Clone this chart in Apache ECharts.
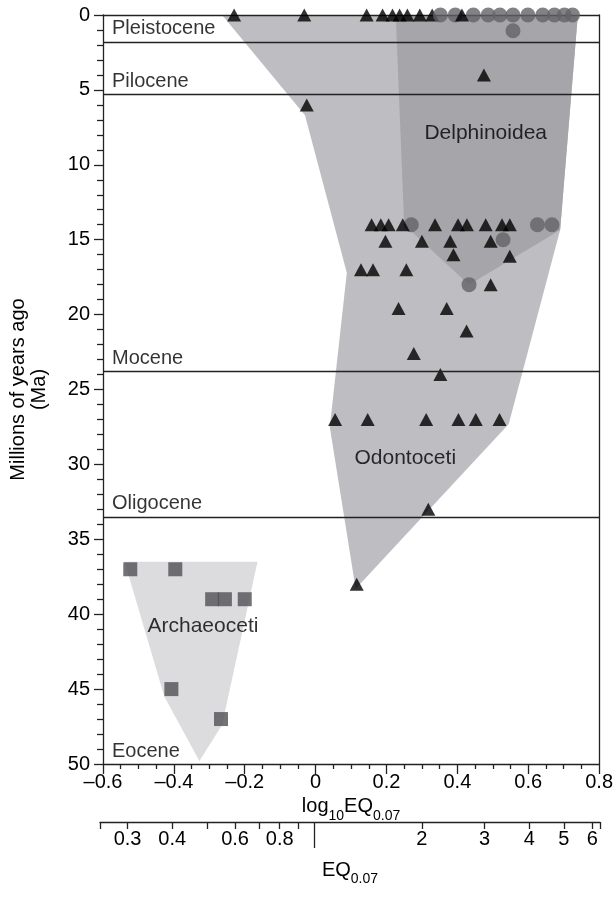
<!DOCTYPE html>
<html><head><meta charset="utf-8">
<script src="https://cdn.jsdelivr.net/npm/echarts@6/dist/echarts.min.js"></script>
<style>html,body{margin:0;padding:0;background:#fff}#c{width:616px;height:912px}</style>
</head><body><div id="c"></div>
<script>
const FONT = '"Liberation Sans", Arial, Helvetica, sans-serif';
const xRange = [-0.6, 0.8];
const yRange = [0, 50];

// Black triangles: [log10 EQ, Ma]
const trianglePoints = [
  [-0.230, 0], [-0.032, 0], [0.144, 0], [0.189, 0], [0.217, 0], [0.237, 0], [0.259, 0], [0.294, 0], [0.413, 0],
  [0.475, 4.0], [-0.025, 6.0],
  [0.158, 14], [0.184, 14], [0.206, 14], [0.246, 14], [0.337, 14], [0.402, 14], [0.427, 14], [0.480, 14], [0.526, 14], [0.548, 14],
  [0.197, 15.1], [0.300, 15.1], [0.380, 15.1], [0.494, 15.1],
  [0.389, 16.0], [0.548, 16.1],
  [0.128, 17], [0.162, 17], [0.256, 17],
  [0.494, 18.0],
  [0.234, 19.6], [0.370, 19.6], [0.426, 21.1], [0.277, 22.6], [0.352, 24.0],
  [0.055, 27], [0.147, 27], [0.312, 27], [0.403, 27], [0.452, 27], [0.519, 27],
  [0.318, 33.0], [0.116, 38.0]
];
const triangleBehindPoints = [[0.329, 0]];
// Grey circles (Delphinoidea)
const circlePoints = [
  [0.352, 0], [0.394, 0], [0.445, 0], [0.487, 0], [0.520, 0], [0.557, 0], [0.599, 0], [0.641, 0], [0.674, 0], [0.702, 0], [0.725, 0],
  [0.557, 1.05],
  [0.270, 14], [0.626, 14], [0.667, 14], [0.529, 15.0], [0.433, 18.0]
];
// Dark squares (Archaeoceti)
const squarePoints = [
  [-0.523, 37], [-0.396, 37], [-0.292, 39], [-0.256, 39], [-0.200, 39], [-0.407, 45], [-0.267, 47]
];
// Group envelopes
const odontocetiPolygon = [[-0.264, 0], [-0.03, 6.7], [0.088, 17.2], [0.04, 27.5], [0.113, 38.3], [0.545, 27.3], [0.69, 14.35], [0.74, 0]];
const delphinoideaPolygon = [[0.226, 0], [0.74, 0], [0.69, 14.35], [0.433, 18.0], [0.25, 14.0]];
const archaeocetiPolygon = [[-0.539, 36.5], [-0.164, 36.5], [-0.264, 47.4], [-0.328, 49.8], [-0.427, 45.5]];

const groupNames = ['Delphinoidea', 'Odontoceti', 'Archaeoceti'];
const groupLabelPos = [[0.48, 7.9], [0.253, 29.6], [-0.318, 40.8]];

const epochBoundaries = [1.8, 5.3, 23.8, 33.5];
const epochNames = ['Pleistocene', 'Pilocene', 'Mocene', 'Oligocene', 'Eocene'];
const epochLabelDepths = [1.8, 5.3, 23.8, 33.5, 50];

const eqTickValues = [0.3, 0.4, 0.5, 0.6, 0.7, 0.8, 0.9, 2, 3, 4, 5, 6];
const eqLabelValues = [0.3, 0.4, 0.6, 0.8, 2, 3, 4, 5, 6];

const LINE = '#222';
const txt = { color: '#000', fontFamily: FONT, fontSize: 20 };
const subRich = {
  a: { fontSize: 20, fontFamily: FONT, color: '#000', lineHeight: 22, verticalAlign: 'top' },
  s: { fontSize: 14, fontFamily: FONT, color: '#000', lineHeight: 26, verticalAlign: 'bottom' }
};

function fmtLog(v) {
  const r = Math.round(v * 10) / 10;
  if (Math.abs(r) < 1e-9) return '0';
  return (r < 0 ? '\u2013' : '') + Math.abs(r).toFixed(1);
}
function fmtEq(v) {
  const e = Math.pow(10, v);
  return e < 1 ? (Math.round(e * 10) / 10).toFixed(1) : String(Math.round(e));
}
function polygonSeries(name, pts, color, z) {
  return {
    type: 'custom', name, z, silent: true, coordinateSystem: 'cartesian2d', xAxisIndex: 0, yAxisIndex: 0,
    data: [0], clip: false,
    renderItem: (params, api) => ({
      type: 'polygon', shape: { points: pts.map(p => api.coord(p)) }, style: { fill: color }
    })
  };
}

const chart = echarts.init(document.getElementById('c'), null, { renderer: 'canvas' });
chart.setOption({
  animation: false,
  backgroundColor: '#fff',
  textStyle: { fontFamily: FONT },
  grid: [
    { left: 100, right: 16, top: 15, bottom: 148 },
    { left: 100, right: 16, top: 821, height: 1 }
  ],
  xAxis: [
    {
      gridIndex: 0, type: 'value', min: xRange[0], max: xRange[1], interval: 0.2, position: 'bottom',
      axisLine: { show: true, onZero: false, lineStyle: { color: LINE, width: 1.3 } },
      axisTick: { show: true, length: 10, lineStyle: { color: LINE, width: 1.3 } },
      minorTick: { show: true, splitNumber: 4, length: 5, lineStyle: { color: LINE, width: 1.3 } },
      splitLine: { show: false },
      axisLabel: Object.assign({ margin: 8, formatter: fmtLog }, txt),
      name: '{a|log}{s|10}{a|EQ}{s|0.07}', nameLocation: 'middle', nameGap: 19,
      nameTextStyle: { rich: subRich }
    },
    {
      gridIndex: 0, type: 'value', min: xRange[0], max: xRange[1], position: 'top',
      axisLine: { show: true, onZero: false, lineStyle: { color: LINE, width: 1.3 } },
      axisTick: { show: false }, axisLabel: { show: false }, splitLine: { show: false }
    },
    {
      gridIndex: 1, type: 'value', min: xRange[0], max: xRange[1], position: 'bottom',
      axisLine: { show: true, onZero: false, lineStyle: { color: LINE, width: 1.3 } },
      axisTick: { show: true, length: 7, customValues: [xRange[0]].concat(eqTickValues.map(Math.log10), [xRange[1]]), lineStyle: { color: LINE, width: 1.3 } },
      axisLabel: Object.assign({ margin: 7, customValues: eqLabelValues.map(Math.log10), formatter: fmtEq }, txt),
      splitLine: { show: false },
      name: '{a|EQ}{s|0.07}', nameLocation: 'middle', nameGap: 38,
      nameTextStyle: { rich: subRich }
    },
    {
      gridIndex: 1, type: 'value', min: xRange[0], max: xRange[1], position: 'bottom',
      axisLine: { show: false },
      axisTick: { show: true, length: 26, customValues: [0], lineStyle: { color: LINE, width: 1.3 } },
      axisLabel: { show: false }, splitLine: { show: false }
    }
  ],
  yAxis: [
    {
      gridIndex: 0, type: 'value', inverse: true, min: yRange[0], max: yRange[1], interval: 5,
      axisLine: { show: true, onZero: false, lineStyle: { color: LINE, width: 1.3 } },
      axisTick: { show: true, length: 9, lineStyle: { color: LINE, width: 1.3 } },
      minorTick: { show: true, splitNumber: 5, length: 6, lineStyle: { color: LINE, width: 1.3 } },
      splitLine: { show: false },
      axisLabel: Object.assign({ margin: 13 }, txt),
      name: 'Millions of years ago\n(Ma)', nameLocation: 'middle', nameGap: 53, nameRotate: 90,
      nameTextStyle: Object.assign({ lineHeight: 21 }, txt)
    },
    {
      gridIndex: 0, type: 'value', inverse: true, min: yRange[0], max: yRange[1], position: 'right',
      axisLine: { show: true, onZero: false, lineStyle: { color: LINE, width: 1.3 } },
      axisTick: { show: false }, axisLabel: { show: false }, splitLine: { show: false }
    },
    { gridIndex: 1, type: 'value', show: false }
  ],
  series: [
    polygonSeries('Odontoceti', odontocetiPolygon, '#bebec2', -3),
    polygonSeries('Archaeoceti', archaeocetiPolygon, '#dcdcde', -3),
    polygonSeries('Delphinoidea', delphinoideaPolygon, '#a6a6aa', -2),
    {
      type: 'line', xAxisIndex: 0, yAxisIndex: 0, data: [], z: 1, silent: true,
      markLine: { symbol: 'none', silent: true, animation: false, label: { show: false },
        lineStyle: { color: LINE, width: 1.3, type: 'solid' },
        data: epochBoundaries.map(v => ({ yAxis: v })) }
    },
    {
      type: 'scatter', xAxisIndex: 0, yAxisIndex: 0, symbolSize: 0, z: 1, silent: true,
      data: epochLabelDepths.map((d, i) => [xRange[0], d, epochNames[i]]),
      label: Object.assign({ show: true, position: 'right', distance: 9, offset: [0, -13], formatter: p => p.data[2] }, txt)
    },
    {
      type: 'scatter', xAxisIndex: 0, yAxisIndex: 0, symbolSize: 0, z: 1, silent: true,
      data: groupLabelPos.map((p, i) => [p[0], p[1], groupNames[i]]),
      label: Object.assign({ show: true, position: 'inside', formatter: p => p.data[2] }, txt, { fontSize: 21 })
    },
    {
      type: 'scatter', xAxisIndex: 0, yAxisIndex: 0, symbol: 'rect', symbolSize: 14, z: 3,
      itemStyle: { color: '#505055' }, data: squarePoints
    },
    {
      type: 'scatter', xAxisIndex: 0, yAxisIndex: 0, symbol: 'triangle', symbolSize: [14, 13], z: 3,
      itemStyle: { color: '#000' }, data: triangleBehindPoints
    },
    {
      type: 'scatter', xAxisIndex: 0, yAxisIndex: 0, symbol: 'circle', symbolSize: 15, z: 3,
      itemStyle: { color: '#636368' }, data: circlePoints
    },
    {
      type: 'scatter', xAxisIndex: 0, yAxisIndex: 0, symbol: 'triangle', symbolSize: [14, 13], z: 3,
      itemStyle: { color: '#000' }, data: trianglePoints
    }
  ]
});
</script></body></html>
